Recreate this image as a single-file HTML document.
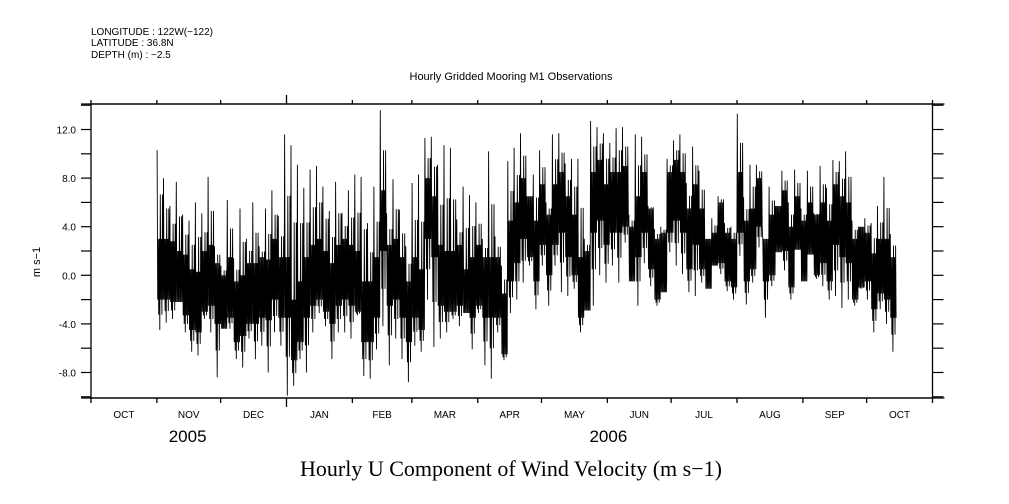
<!DOCTYPE html>
<html><head><meta charset="utf-8"><style>
html,body{margin:0;padding:0;background:#fff;}
svg{display:block;}
text{font-family:"Liberation Sans",sans-serif;fill:#000;}
</style></head><body>
<svg id="chart" width="1009" height="504" viewBox="0 0 1009 504">
<text x="91" y="35" font-size="10">LONGITUDE : 122W(−122)</text>
<text x="91" y="46" font-size="10">LATITUDE : 36.8N</text>
<text x="91" y="58" font-size="10">DEPTH (m) : −2.5</text>
<text x="511" y="80" font-size="11" text-anchor="middle">Hourly Gridded Mooring M1 Observations</text>
<text transform="translate(40,262) rotate(-90)" font-size="11" text-anchor="middle">m s−1</text>
<text x="511" y="476" font-size="22" text-anchor="middle" style="font-family:'Liberation Serif',serif">Hourly U Component of Wind Velocity (m s−1)</text>
<g id="axes"></g>
<g id="series"></g>
</svg>
<script>
const monthLabels = ["OCT","NOV","DEC","JAN","FEB","MAR","APR","MAY","JUN","JUL","AUG","SEP","OCT"];
const monthStartDays = [0,31,61,92,123,151,182,212,243,273,304,335,365,396];
const yTickLabels = ["-8.0","-4.0","0.0","4.0","8.0","12.0"];
const yTickValues = [-8,-4,0,4,8,12];
const yearLabels = ["2005","2006"];
const yearDays = [45,243];
const binStartDay = 31;
const binDays = 3;
const highs = [10.3,8.0,5.7,7.7,5.0,4.5,6.0,5.1,8.1,2.4,0.8,6.2,1.4,5.5,3.0,6.0,2.4,5.5,7.0,4.9,
11.6,10.7,9.1,7.2,8.7,9.0,7.3,5.3,7.7,5.1,
7.0,8.3,8.1,4.3,7.3,13.6,5.1,7.9,5.4,2.4,7.6,8.3,11.3,11.4,9.1,10.7,10.5,4.6,7.3,6.6,
6.0,3.0,10.2,3.2,0.8,9.4,10.5,11.7,6.5,8.3,10.3,
6.0,11.6,11.7,9.2,9.6,9.6,3.0,12.7,12.2,11.7,10.9,12.1,12.2,5.0,11.6,11.4,5.7,3.8,4.0,
9.6,11.1,11.6,7.6,10.6,8.6,3.0,4.7,6.5,4.3,4.0,13.3,
6.4,9.1,9.1,3.0,7.3,5.7,8.6,6.0,8.7,5.5,8.6,5.1,9.0,7.2,9.5,9.4,10.2,4.5,4.0,4.7,4.3,5.7,8.1,3.4];
const lows = [-4.5,-3.9,-3.6,-2.2,-4.7,-6.3,-6.6,-3.6,-4.7,-8.4,-4.4,-4.4,-6.9,-7.6,-5.2,-6.9,-5.8,-8.0,-4.7,-5.8,
-9.9,-9.1,-6.9,-8.0,-4.7,-3.1,-4.2,-6.9,-4.7,-4.7,
-5.2,-3.3,-8.3,-8.5,-6.1,-4.2,-7.4,-5.2,-6.9,-8.8,-5.8,-6.3,-2.0,-5.9,-5.2,-4.7,-3.6,-4.2,-3.1,-6.1,
-3.1,-7.4,-8.5,-4.7,-7.0,-3.1,-2.0,-0.6,0.8,-2.8,0.8,
-2.5,0.8,-1.4,-1.7,-1.1,-4.7,-2.9,-2.5,0,-0.6,0.8,-0.6,2.7,-0.5,-2.5,1.0,-0.9,-2.5,-1.4,
1.9,0.8,0.1,-1.4,-1.7,-0.6,-1.1,0.8,0.1,-1.3,-2.0,1.6,
-2.4,-0.6,2.3,-3.5,-0.9,1.9,0.4,-2.0,2.1,-0.5,1.7,-0.3,-0.9,-2.0,-1.7,-2.7,-2.0,-2.5,-1.1,-2.0,-4.7,-2.8,-4.0,-6.3];
const coreHighs = [3,3,2.8,2,1.7,0.5,0.3,2,2.5,1,0,1.5,-0.5,0,1,1,1.5,1.3,3,1.5,
1.5,-2,-0.5,1.5,2.5,3,2,1,2.5,3,
2.5,2,-0.5,-0.5,1.5,7,2.5,3,1.5,-0.5,1.5,0.5,8,6.5,2.5,2,2,2.5,0.5,1.5,
2.5,1.5,1.5,1.5,-1.5,4.5,6,8,6.5,4.5,7.5,
5,7.5,8.5,6.5,5,1.5,2,8.5,9.5,7.5,8.5,8.5,9,4,6.5,8.5,5.5,3,3.5,
8.5,9.5,8.5,5.5,7.5,5.5,3,3.5,6,3.5,3,8.5,
4.5,5.5,8,3.5,5,6,7,4,6.5,4.5,6,5,6,4.5,7.5,6.5,6,3,4,3.5,1.8,3,3,1.5];
const coreLows = [-2,-2,-2.2,-3,-3.3,-4.5,-4.7,-3,-2.5,-4,-4.4,-3.5,-5.5,-5,-4,-4,-3.5,-3.7,-2,-3.5,
-3.5,-7,-5.5,-3.5,-2.5,-2,-3,-4,-2.5,-2,
-2.5,-3,-5.5,-5.5,-3.5,2,-2.5,-2,-3.5,-5.5,-3.5,-4.5,3,1.5,-2.5,-3,-3,-2.5,-4.5,-3.5,
-2.5,-3.5,-3.5,-3.5,-6.5,-0.5,1,3,1.5,-0.5,2.5,
0,2.5,3.5,1.5,0,-3.5,-3,3.5,4.5,2.5,3.5,3.5,4,-1,1.5,3.5,0.5,-2,-1.5,
3.5,4.5,3.5,0.5,2.5,0.5,-2,-0.5,1,-0.5,-1,3.5,
-0.5,0.5,4,-0.5,0,1,2,-1,1.5,-0.5,1,0,1,-0.5,2.5,1.5,1,-2,-1,-0.5,-2.8,-1.5,-2,-3.5];

const X0=91,X1=932.5,Y0=104,Y1=398,D0=0,D1=396,V0=-10.1,V1=14.1;
const xs=d=>X0+(d-D0)/(D1-D0)*(X1-X0);
const ys=v=>Y1-(v-V0)/(V1-V0)*(Y1-Y0);
const NS="http://www.w3.org/2000/svg";
const ax=document.getElementById('axes');
function mk(tag,attrs,parent){const e=document.createElementNS(NS,tag);for(const k in attrs)e.setAttribute(k,attrs[k]);parent.appendChild(e);return e;}

let e=mk('rect',{x:X0,y:Y0,width:X1-X0,height:Y1-Y0,fill:'none',stroke:'#000','stroke-width':1.3},ax);


e=mk('line',{x1:X0-10,y1:Y0,x2:X1+12,y2:Y0,stroke:'#000','stroke-width':1.3},ax);


e=mk('line',{x1:X0-10,y1:Y1,x2:X1+12,y2:Y1,stroke:'#000','stroke-width':1.3},ax);



monthStartDays.forEach((d,i)=>{
  const x=xs(d);const big=(d===92);
  let t=mk('line',{x1:x,y1:Y0,x2:x,y2:Y0-(big?9:4),stroke:'#000','stroke-width':1.3},ax);
  
  
  t=mk('line',{x1:x,y1:Y1,x2:x,y2:Y1+(big?9:5),stroke:'#000','stroke-width':1.3},ax);
  
  
});
monthLabels.forEach((m,i)=>{
  const x=(xs(monthStartDays[i])+xs(monthStartDays[i+1]))/2;
  const t=mk('text',{x:x,y:418,'font-size':10,'text-anchor':'middle'},ax);
  t.textContent=m;
  
  
});
yearLabels.forEach((y,i)=>{
  const t=mk('text',{x:xs(yearDays[i])+1,y:442,'font-size':17,'text-anchor':'middle'},ax);
  t.textContent=y;
  
  
});
for(let v=-10;v<=14;v+=2){
  const y=ys(v);
  let t=mk('line',{x1:X0-10,y1:y,x2:X0,y2:y,stroke:'#000','stroke-width':1.2},ax);
  
  
  t=mk('line',{x1:X1,y1:y,x2:X1+11,y2:y,stroke:'#000','stroke-width':1.2},ax);
  
  
}
yTickValues.forEach((v,i)=>{
  const t=mk('text',{x:76,y:ys(v)+4,'font-size':10,'text-anchor':'end'},ax);
  t.textContent=yTickLabels[i];
  
  
});

// series: core oscillation, graded spikes and single spikes to each bin's high and low
let pts=[];
for(let i=0;i<highs.length;i++){
  const d=binStartDay+i*binDays;
  const hi=highs[i], lo=lows[i];
  const ch=Math.min(coreHighs[i],hi);
  const cl=Math.max(coreLows[i],lo);
  const uh=(ch+hi)/2, ul=(cl+lo)/2;
  const seq=[hi,cl,ch,ul,ch,lo,uh,cl,ch,ul,uh,cl];
  const n=seq.length;
  for(let j=0;j<n;j++){
    const dd=d+binDays*(j+0.5)/n;
    pts.push(xs(dd).toFixed(1)+','+ys(seq[j]).toFixed(1));
  }
}
const line=mk('polyline',{points:pts.join(' '),fill:'none',stroke:'#000','stroke-width':0.9},document.getElementById('series'));


</script>
</body></html>
